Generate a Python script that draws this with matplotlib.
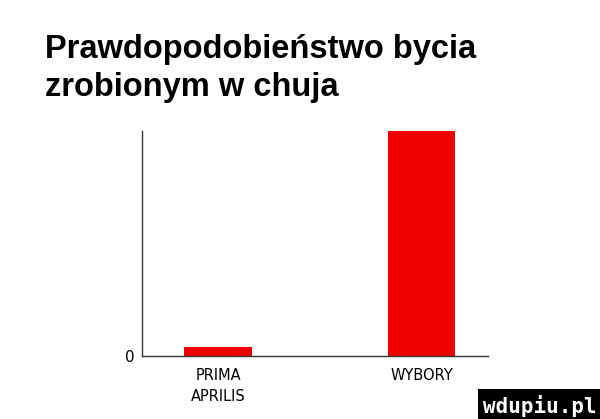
import matplotlib.pyplot as plt

# data
categories = ["PRIMA\nAPRILIS", "WYBORY"]
values = [4, 100]
title = "Prawdopodobieństwo bycia\nzrobionym w chuja"

fig = plt.figure(figsize=(6.0, 4.19), dpi=100)
ax = fig.add_axes([0.2367, 0.1504, 0.5766, 0.537])

ax.bar(range(len(categories)), values, width=0.33, color="#ee0000")
ax.set_xlim(-0.3736, 1.327)
ax.set_ylim(0, 100)

for side in ["top", "right"]:
    ax.spines[side].set_visible(False)
for side in ["left", "bottom"]:
    ax.spines[side].set_linewidth(1.0)
    ax.spines[side].set_color("#333333")

ax.set_yticks([0])
ax.set_yticklabels(["0"], fontsize=11, family="DejaVu Sans")
ax.tick_params(axis="y", length=0, pad=5)
ax.set_xticks(range(len(categories)))
ax.set_xticklabels(categories, fontsize=10.5, family="DejaVu Sans", linespacing=1.5)
ax.tick_params(axis="x", length=0, pad=9)

fig.text(0.075, 0.92, title, fontsize=23.5, fontweight="bold",
         family="Liberation Sans", va="top", ha="left", linespacing=1.3)

# site watermark
fig.text(0.995, 0.005, "wdupiu.pl", fontsize=15, color="white", ha="right", va="bottom",
         family="DejaVu Sans Mono", fontweight="bold",
         bbox=dict(facecolor="black", edgecolor="none", pad=4))

fig.savefig("out.png", dpi=100, facecolor="white")
